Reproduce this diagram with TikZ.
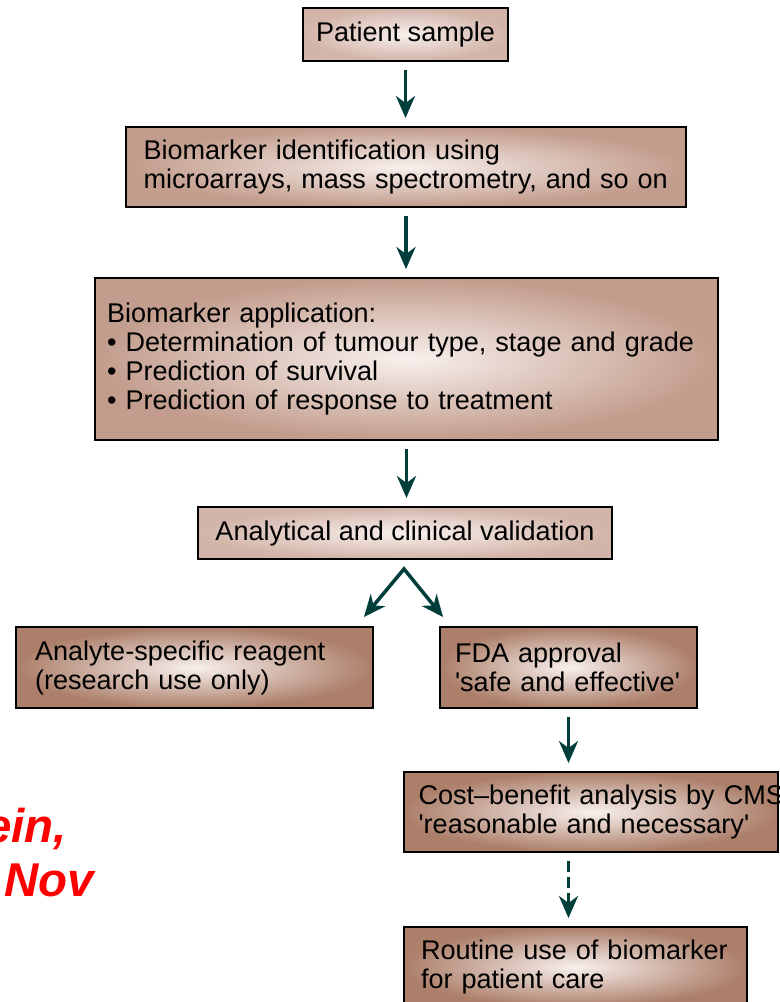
\documentclass[tikz,border=0pt]{standalone}
\usepackage{fontspec}
\setmainfont{Liberation Sans}
\usetikzlibrary{arrows.meta}
\definecolor{boxcore}{RGB}{248,240,237}
\definecolor{boxpale}{RGB}{210,180,168}
\definecolor{boxmid}{RGB}{194,156,140}
\definecolor{boxdeep}{RGB}{172,127,106}
\definecolor{arrowteal}{RGB}{0,62,60}
\definecolor{citered}{RGB}{255,0,0}
\tikzset{
  flowtip/.tip={Stealth[length=0.44cm, width=0.38cm, inset=0.14cm]},
  stage/.style={draw=black, line width=1.1pt, shading=radial, inner color=boxcore,
    outer color=boxdeep, inner ysep=0pt, font=\fontsize{15.4pt}{16.5pt}\selectfont},
  paletone/.style={outer color=boxpale},
  midtone/.style={outer color=boxmid},
  flow/.style={draw=arrowteal, line width=2pt, -flowtip, shorten <=0.16cm, shorten >=0.16cm},
  forked/.style={draw=arrowteal, line width=2pt, flowtip-flowtip},
  cite/.style={text=citered, anchor=base east, font=\fontsize{27pt}{32pt}\selectfont\bfseries\itshape},
}

\begin{document}
\begin{tikzpicture}[x=0.02cm, y=-0.02cm]
  \useasboundingbox (0,0) rectangle (780,1002);
  \clip (0,0) rectangle (780,1002);

  \node[stage, paletone, minimum width=4.1cm, minimum height=1.06cm] (patient) at (405.5,34.5) {Patient sample};
  \node[stage, midtone, text width=10.5cm, inner xsep=0.35cm, minimum height=1.6cm, align=left] (identify) at (406,167)
    {Biomarker identification using\\microarrays, mass spectrometry, and so on};
  \node[stage, midtone, text width=11.98cm, inner xsep=0.24cm, minimum height=3.24cm, align=left] (apply) at (406.5,359)
    {Biomarker application:\\\textbullet\ Determination of tumour type, stage and grade\\\textbullet\ Prediction of survival\\\textbullet\ Prediction of response to treatment};
  \node[stage, paletone, minimum width=8.28cm, minimum height=1.04cm] (validate) at (405,533) {Analytical and clinical validation};
  \node[stage, text width=6.38cm, inner xsep=0.38cm, minimum height=1.62cm, align=left] (reagent) at (194.5,667.5)
    {Analyte-specific reagent\\(research use only)};
  \node[stage, text width=4.54cm, inner xsep=0.3cm, minimum height=1.62cm, align=left] (fda) at (568.5,667.5)
    {FDA approval\\\textquotesingle safe and effective\textquotesingle};
  \node[stage, text width=6.9cm, inner xsep=0.29cm, minimum height=1.6cm, align=left] (cms) at (591,812)
    {\mbox{Cost--benefit analysis by CMS}\\\textquotesingle reasonable and necessary\textquotesingle};
  \node[stage, text width=6.18cm, inner xsep=0.34cm, minimum height=1.6cm, align=left] (routine) at (575.5,967)
    {Routine use of biomarker\\for patient care};

  % cut-off citation on the left
  \node[cite] (citeyear) at (73,842) {ein,};
  \node[cite] (citemonth) at (100,896) {Nov};

  \draw[flow] (patient.south) -- (patient.south |- identify.north);
  \draw[flow] (identify.south) -- (identify.south |- apply.north);
  \draw[flow] (apply.south) -- (apply.south |- validate.north);
  \coordinate (fork) at ([shift={(-1,9)}]validate.south);
  \draw[forked] ([shift={(-10,-9)}]reagent.north east) -- (fork) -- ([shift={(4,-9)}]fda.north west);
  \draw[flow] (fda.south) -- (fda.south |- cms.north);
  \draw[flow, dash pattern=on 0.22cm off 0.1cm] (cms.south -| fda.south) -- (routine.north -| fda.south);

\end{tikzpicture}
\end{document}
